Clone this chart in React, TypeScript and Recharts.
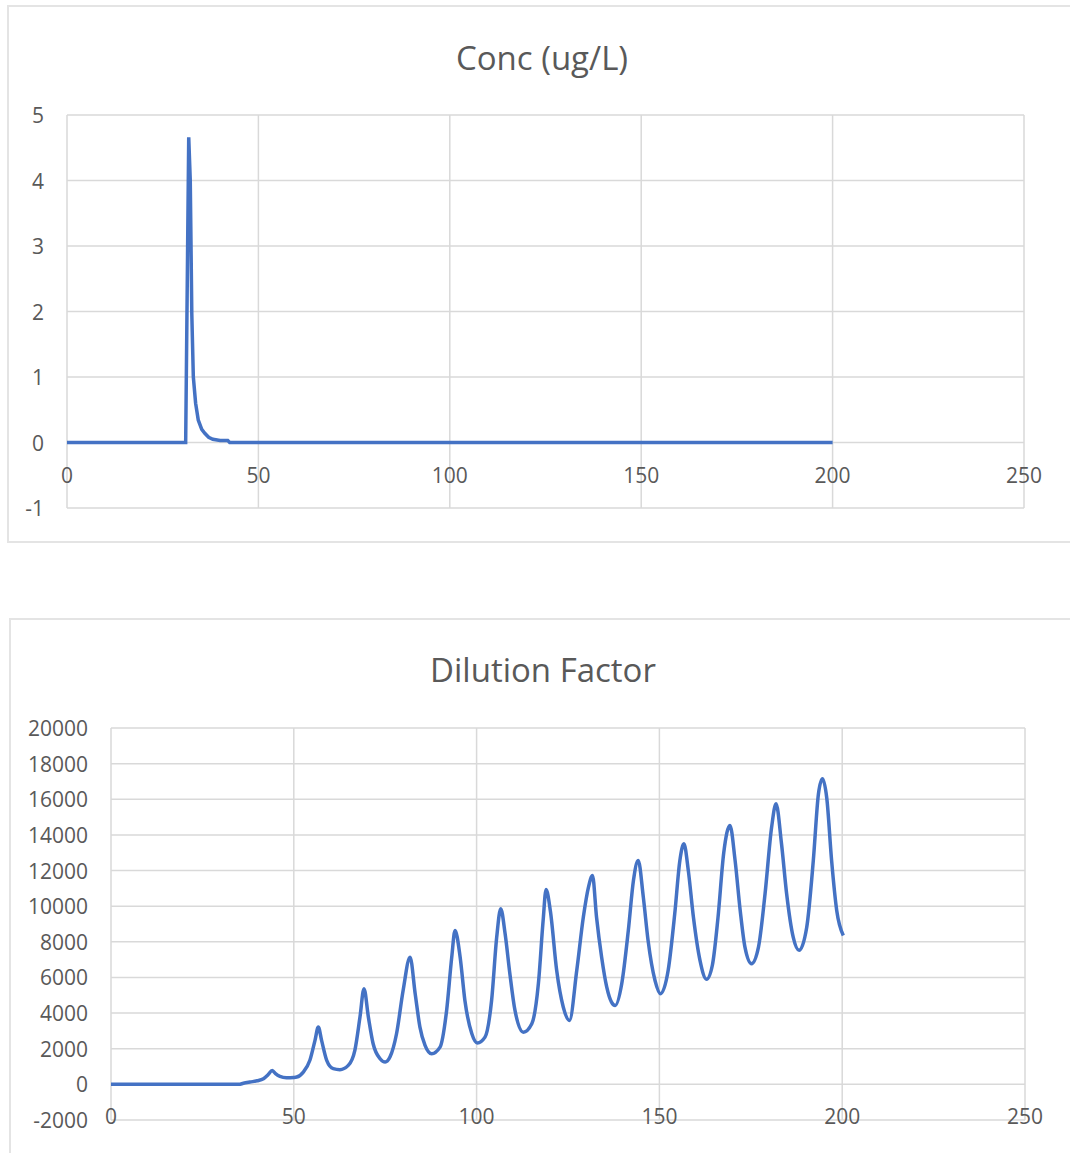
import React from 'react';
import { LineChart, Line, XAxis, YAxis, CartesianGrid } from 'recharts';

// ---- Data: Conc (ug/L) ----
const concTime = [0, 31.0, 31.8, 32.2, 32.4, 32.6, 33.0, 33.6, 34.3, 35.2, 36.0, 37.0, 38.1, 40.0, 42.0, 42.5, 200];
const concValue = [0, 0, 4.66, 4.0, 3.0, 1.97, 1.0, 0.6, 0.34, 0.2, 0.14, 0.08, 0.05, 0.03, 0.03, 0, 0];
const concXTicks = [0, 50, 100, 150, 200, 250];
const concYTicks = [-1, 0, 1, 2, 3, 4, 5];

// ---- Data: Dilution Factor ----
const dilTime = [
  0, 35, 36.2, 38.0, 40.0, 41.7, 43.0, 44.1, 45.0, 46.2, 48.0, 50.0, 50.8, 52.6, 54.4, 55.8, 56.7, 57.6, 59.0, 60.8,
  62.6, 64.9, 66.7, 68.1, 69.2, 70.4, 71.7, 73.6, 75.0, 76.3, 78.1, 79.9, 81.8, 83.2, 84.5, 85.9, 87.7, 90.0, 91.8,
  93.2, 94.1, 95.5, 96.8, 98.7, 100.2, 102.3, 104.1, 105.5, 106.6, 107.8, 109.1, 110.5, 112.8, 115.1, 116.9, 118.2,
  119.0, 120.2, 121.9, 123.7, 125.4, 127.4, 129.2, 130.6, 131.7, 132.8, 134.2, 135.6, 136.9, 137.9, 139.7, 141.5,
  142.9, 144.2, 145.6, 146.9, 148.8, 150.3, 152.4, 154.2, 155.6, 156.7, 157.9, 159.3, 161.1, 162.9, 164.5, 166.0,
  167.6, 169.3, 170.7, 172.1, 173.4, 175.2, 177.1, 178.9, 180.7, 181.9, 183.4, 184.8, 186.6, 188.2, 190.3, 192.1,
  193.5, 194.6, 195.8, 197.1, 198.5, 200.3,
];
const dilValue = [
  0, 0, 60, 130, 200, 320, 550, 785, 600, 450, 375, 390, 410, 690, 1350, 2470, 3215, 2470, 1350, 880,
  825, 1065, 1910, 3775, 5370, 3775, 2280, 1440, 1250, 1530, 2840, 5270, 7140, 5090, 3215, 2190, 1720, 2090, 4150,
  7140, 8640, 7140, 4710, 2840, 2320, 2650, 4710, 8260, 9860, 8450, 6210, 4150, 2930, 3400, 5650, 9200,
  10940, 9700, 6400, 4340, 3590, 6400, 9390, 11070, 11725, 9390, 7140, 5460, 4620, 4430, 5650, 8640,
  11440, 12570, 10510, 8080, 5830, 5090, 6400, 9580, 12570, 13500, 12010, 9390, 6960, 5900, 6700, 9300,
  13000, 14530, 12570, 9760, 7700, 6770, 7700, 10700, 14440, 15750, 13500, 10700, 8260, 7520, 8820, 12570,
  16300, 17150, 16030, 12570, 9760, 8360,
];
const dilXTicks = [0, 50, 100, 150, 200, 250];
const dilYTicks = [-2000, 0, 2000, 4000, 6000, 8000, 10000, 12000, 14000, 16000, 18000, 20000];

const concData = concTime.map((t, i) => ({ t, v: concValue[i] }));
const dilData = dilTime.map((t, i) => ({ t, v: dilValue[i] }));

const FONT = '"Open Sans", sans-serif';
const TEXT = '#595959';
const GRID = '#d9d9d9';
const BLUE = '#4472C4';

const makeXTick = (shift: number) => (props: any) => {
  const { x, y, payload } = props;
  return (
    <text x={x} y={y - shift} textAnchor="middle" dominantBaseline="central" fill={TEXT} fontSize={21} fontFamily={FONT}>
      {payload.value}
    </text>
  );
};

const YTick = (props: any) => {
  const { x, y, payload } = props;
  return (
    <text x={x} y={y} textAnchor="end" dominantBaseline="central" fill={TEXT} fontSize={21} fontFamily={FONT}>
      {payload.value}
    </text>
  );
};

const boxStyle = (left: number, top: number, height: number): React.CSSProperties => ({
  position: 'absolute',
  left,
  top,
  width: 1080,
  height,
  border: '2px solid #e4e4e4',
  boxSizing: 'border-box',
});

const titleStyle = (top: number, cx: number): React.CSSProperties => ({
  position: 'absolute',
  left: cx - 300,
  width: 600,
  top,
  height: 40,
  lineHeight: '40px',
  textAlign: 'center',
  fontFamily: FONT,
  fontSize: 33,
  color: TEXT,
});

export default function App() {
  return (
    <div style={{ position: 'absolute', left: 0, top: 0, width: 1070, height: 1153, overflow: 'hidden', background: '#fff' }}>
      <div style={boxStyle(7, 5, 538)} />
      <div style={boxStyle(9, 618, 560)} />
      <div style={titleStyle(38, 542)}>Conc (ug/L)</div>
      <div style={titleStyle(650, 543)}>Dilution Factor</div>

      <div style={{ position: 'absolute', left: 0, top: 0 }}>
        <LineChart width={1070} height={545} data={concData} margin={{ top: 115, right: 46, left: 17, bottom: 7 }}>
          <CartesianGrid stroke={GRID} strokeWidth={1.5} horizontalValues={concYTicks} verticalValues={concXTicks} />
          <XAxis
            dataKey="t"
            type="number"
            domain={[0, 250]}
            ticks={concXTicks}
            axisLine={false}
            tickLine={false}
            tickSize={0}
            tickMargin={0}
            height={30}
            interval={0}
            tick={makeXTick(33)}
          />
          <YAxis
            type="number"
            domain={[-1, 5]}
            ticks={concYTicks}
            axisLine={false}
            tickLine={false}
            tickSize={0}
            tickMargin={23}
            width={50}
            interval={0}
            tick={<YTick />}
          />
          <Line type="linear" dataKey="v" stroke={BLUE} strokeWidth={3.5} dot={false} isAnimationActive={false} />
        </LineChart>
      </div>

      <div style={{ position: 'absolute', left: 0, top: 600 }}>
        <LineChart width={1070} height={553} data={dilData} margin={{ top: 128, right: 45, left: 41, bottom: 3 }}>
          <CartesianGrid stroke={GRID} strokeWidth={1.5} horizontalValues={dilYTicks} verticalValues={dilXTicks} />
          <XAxis
            dataKey="t"
            type="number"
            domain={[0, 250]}
            ticks={dilXTicks}
            axisLine={false}
            tickLine={false}
            tickSize={0}
            tickMargin={0}
            height={30}
            interval={0}
            tick={makeXTick(4)}
          />
          <YAxis
            type="number"
            domain={[-2000, 20000]}
            ticks={dilYTicks}
            axisLine={false}
            tickLine={false}
            tickSize={0}
            tickMargin={23}
            width={70}
            interval={0}
            tick={<YTick />}
          />
          <Line type="monotone" dataKey="v" stroke={BLUE} strokeWidth={3.5} dot={false} isAnimationActive={false} />
        </LineChart>
      </div>
    </div>
  );
}
